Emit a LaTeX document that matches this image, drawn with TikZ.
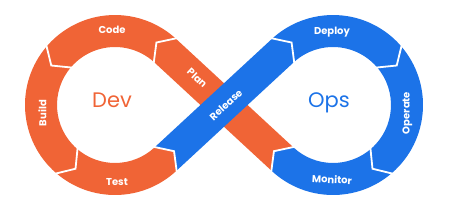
\documentclass[tikz,border=0pt]{standalone}
\usepackage{fontspec}
\setmainfont{Poppins}
\usepackage{xcolor}
\usepackage{tikz}
\usetikzlibrary{calc}

\definecolor{cam}{HTML}{F06436}
\definecolor{xanh}{HTML}{1C73E8}

% Cung tròn có mũi: tâm, góc đầu, góc cuối, hướng (90 hoặc -90), màu
\newcommand{\cungmui}[5]{%
  \fill[#5] ($(#1)+(#2:90)$) arc[start angle=#2, end angle=#3, radius=90]
    -- ($(#1)+(#3:74)+({#3+(#4)}:\dd)$) -- ($(#1)+(#3:58)$)
    arc[start angle=#3, end angle=#2, radius=58]
    -- ($(#1)+(#2:74)+({#2+(#4)}:\dd)$) -- cycle;}

\begin{document}
\begin{tikzpicture}[x=1pt, y=1pt,
    nhan/.style={text=white, font=\fontsize{10}{10}\selectfont\bfseries,
      inner sep=0pt, text height=0.7em, text depth=0pt},
    chu/.style={font=\fontsize{21}{21}\selectfont, inner sep=0pt,
      text height=0.7em, text depth=0pt},
    vach/.style={white, line width=1.8pt, line join=miter}]
    \useasboundingbox (-224,-100) rectangle (229,105);
    \pgfmathsetmacro{\tb}{acos(74/109)}
    \def\dd{12}
    % Tâm hai vòng
    \coordinate (L) at (-109,0);
    \coordinate (R) at (109,0);

    % Dải Plan (nằm dưới)
    \fill[cam] ($(R)+(180+\tb:90)$) -- ($(L)+(\tb:58)$)
      -- ($(L)+(\tb:74)+(90+\tb:\dd)$) -- ($(L)+(\tb:90)$)
      -- ($(R)+(180+\tb:58)$) -- ($(R)+(180+\tb:74)+(90+\tb:\dd)$) -- cycle;

    % Vòng trái
    \cungmui{L}{\tb}{139}{90}{cam}
    \cungmui{L}{139}{229}{90}{cam}
    \cungmui{L}{229}{360-\tb}{90}{cam}
    % Vòng phải
    \cungmui{R}{180-\tb}{41}{-90}{xanh}
    \cungmui{R}{41}{-49}{-90}{xanh}
    \cungmui{R}{-49}{-180+\tb}{-90}{xanh}

    % Dải Release (nằm trên)
    \fill[xanh] ($(L)+(-\tb:90)$) -- ($(R)+(180-\tb:58)$)
      -- ($(R)+(180-\tb:74)+(90-\tb:\dd)$) -- ($(R)+(180-\tb:90)$)
      -- ($(L)+(-\tb:58)$) -- ($(L)+(-\tb:74)+(90-\tb:\dd)$) -- cycle;

    % Vạch trắng giữa các đoạn
    \foreach \c/\t/\f in {L/\tb/90+\tb, L/139/229, L/229/319, L/-\tb/90-\tb,
        R/180-\tb/90-\tb, R/41/-49, R/-49/-139, R/180+\tb/90+\tb}
      \draw[vach] ($(\c)+({\t}:91)$) -- ($(\c)+({\t}:74)+({\f}:\dd)$)
        -- ($(\c)+({\t}:57)$);

    % Chữ
    \node[nhan] (code) at (-112,75) {Code};
    \node[nhan, rotate=90] (build) at (-181,-8) {Build};
    \node[nhan] (test) at (-107,-77) {Test};
    \node[nhan, rotate=-42.8] (plan) at (-27,27) {Plan};
    \node[nhan, rotate=42.8] (release) at (2,0) {Release};
    \node[nhan] (deploy) at (108,74) {Deploy};
    \node[nhan, rotate=90] (operate) at (182,-8) {Operate};
    \node[nhan, rotate=-3] (monitor) at (108,-75) {Monitor};
    \node[chu, text=cam] (dev) at (-112,1) {Dev};
    \node[chu, text=xanh] (ops) at (105,1) {Ops};
\end{tikzpicture}
\end{document}
